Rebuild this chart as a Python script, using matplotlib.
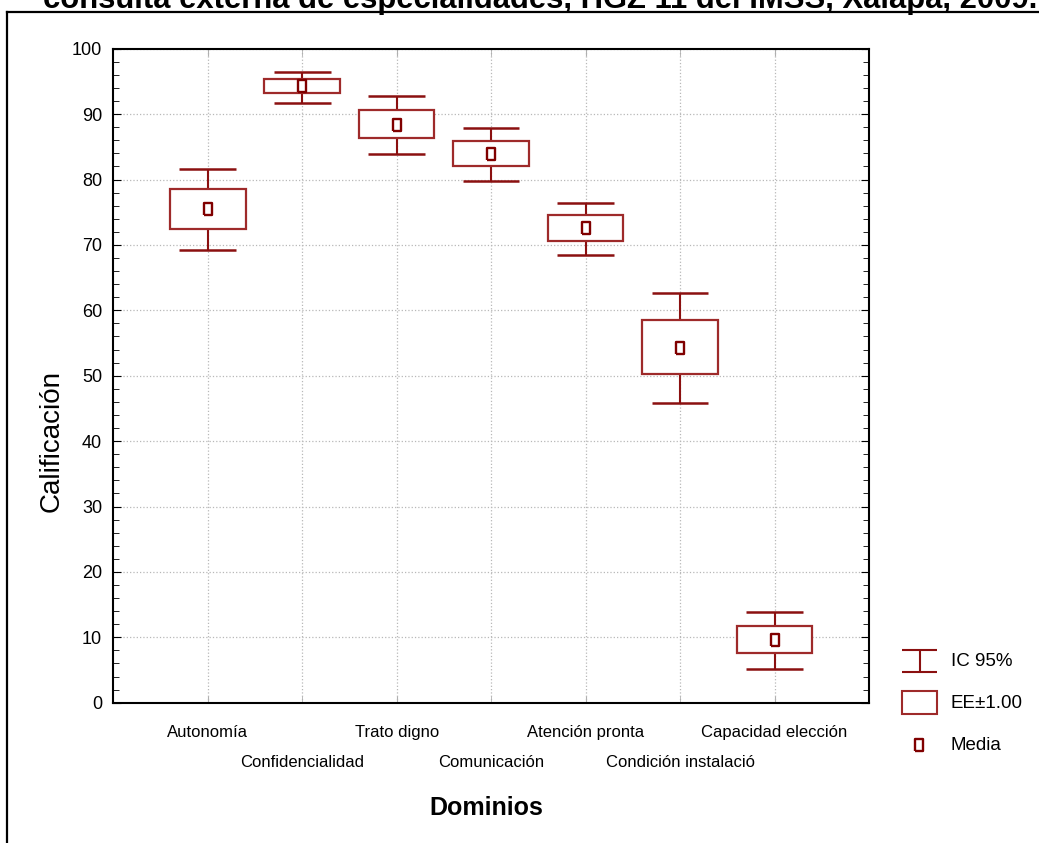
import matplotlib
matplotlib.use('Agg')
import matplotlib.pyplot as plt
from matplotlib.lines import Line2D
from matplotlib.patches import Rectangle
from matplotlib.ticker import MultipleLocator

plt.rcParams['font.family'] = ['Liberation Sans', 'DejaVu Sans']

# ---------------- data ----------------
dominios = ['Autonomía', 'Confidencialidad', 'Trato digno', 'Comunicación',
            'Atención pronta', 'Condición instalació', 'Capacidad elección']
media   = [75.5, 94.25, 88.4, 83.9, 72.6, 54.3, 9.6]
ee_low  = [72.5, 93.2, 86.3, 82.0, 70.6, 50.2, 7.55]
ee_high = [78.55, 95.4, 90.6, 85.9, 74.6, 58.5, 11.7]
ic_low  = [69.2, 91.7, 83.9, 79.7, 68.4, 45.8, 5.15]
ic_high = [81.6, 96.5, 92.8, 87.9, 76.45, 62.6, 13.8]

titulo = 'consulta externa de especialidades, HGZ 11 del IMSS, Xalapa, 2009.'
legend_labels = ['IC 95%', 'EE±1.00', 'Media']

W, H = 1039, 843
WHISK = '#8b1010'
BOXC = '#9e2a2a'
MEANC = '#800000'
mean_marker = [(-0.6, -1), (0.6, -1), (0.6, 1), (-0.6, 1), (-0.6, -1)]

fig = plt.figure(figsize=(W / 100, H / 100), dpi=100)
ax = fig.add_axes([113.3 / W, 1 - 702.7 / H, (869 - 113.3) / W, (702.7 - 48.7) / H])

x = list(range(1, len(dominios) + 1))

# whiskers (IC 95%)
ax.vlines(x, ic_low, ic_high, color=WHISK, lw=1.5, zorder=3)
ax.hlines(ic_low, [i - 0.3 for i in x], [i + 0.3 for i in x], color=WHISK, lw=1.8, zorder=3)
ax.hlines(ic_high, [i - 0.3 for i in x], [i + 0.3 for i in x], color=WHISK, lw=1.8, zorder=3)

# boxes (EE)
heights = [h - l for h, l in zip(ee_high, ee_low)]
ax.bar(x, heights, bottom=ee_low, width=0.8, facecolor='white', edgecolor=BOXC, lw=1.6, zorder=4)

# mean
ax.plot(x, media, ls='none', marker=mean_marker, ms=8.5, mfc='white', mec=MEANC, mew=1.7, zorder=5)

ax.set_xlim(0, 8)
ax.set_ylim(0, 100)
ax.yaxis.set_major_locator(MultipleLocator(10))
ax.yaxis.set_minor_locator(MultipleLocator(2))

# staggered category labels: odd ones on the first row, even ones below
ax.set_xticks(x[0::2])
ax.set_xticklabels(dominios[0::2], fontsize=12)
ax.set_xticks(x[1::2], minor=True)
ax.set_xticklabels(dominios[1::2], minor=True, fontsize=12)
ax.tick_params(axis='x', which='both', direction='in', length=5, color='#b0b0b0', top=True)
ax.tick_params(axis='x', which='major', pad=16)
ax.tick_params(axis='x', which='minor', pad=38)
ax.tick_params(axis='y', which='major', direction='in', length=6, right=True, labelsize=13, pad=8)
ax.tick_params(axis='y', which='minor', direction='in', length=4, right=True)
ax.grid(True, which='major', color='#b8b8b8', ls=':', lw=0.9, zorder=0)
ax.grid(True, which='minor', axis='x', color='#b8b8b8', ls=':', lw=0.9, zorder=0)
ax.set_axisbelow(True)
for s in ax.spines.values():
    s.set_linewidth(1.5)

ax.set_xlabel('Dominios', fontsize=18, fontweight='bold')
ax.xaxis.set_label_coords(0.493, -0.161)
ax.xaxis.label.set_va('center')
ax.set_ylabel('Calificación', fontsize=20)
ax.yaxis.set_label_coords(-0.082, 0.40)
ax.yaxis.label.set_va('center')

# legend drawn in pixel-like units
lax = fig.add_axes([895 / W, 1 - 765 / H, 144 / W, 125 / H])
lax.set_xlim(895, 1039)
lax.set_ylim(765, 640)
lax.axis('off')
lax.hlines([650, 672], 902, 937, color=WHISK, lw=1.5)
lax.vlines(919.5, 650, 672, color=WHISK, lw=1.5)
lax.add_patch(Rectangle((902, 691), 35, 23, facecolor='white', edgecolor=BOXC, lw=1.5))
lax.plot([919], [745], marker=mean_marker, ms=8.5, mfc='white', mec=MEANC, mew=1.7)
for yy, lab in zip([662, 703, 745], legend_labels):
    lax.text(951, yy, lab, va='center', ha='left', fontsize=13.5)

# outer frame (cropped) and cut title
fig.add_artist(Line2D([7 / W, 7 / W], [0, 1 - 11.5 / H], transform=fig.transFigure, color='k', lw=1.6))
fig.add_artist(Line2D([7 / W, 1], [1 - 11.5 / H, 1 - 11.5 / H], transform=fig.transFigure, color='k', lw=1.6))
fig.text(43 / W, 1 - 8 / H, titulo, ha='left', va='baseline', fontsize=22.3, fontweight='bold')

fig.savefig('out.png', dpi=100)
